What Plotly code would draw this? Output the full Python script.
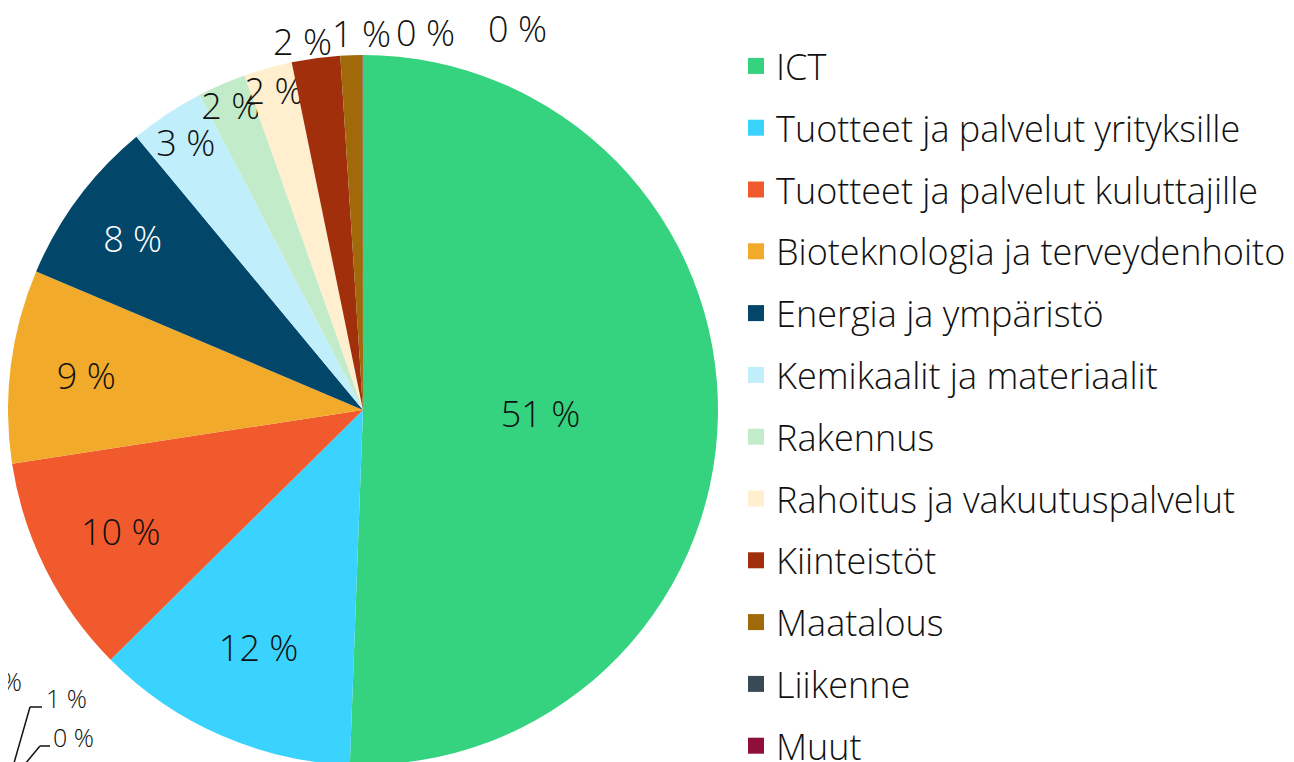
import plotly.graph_objects as go

categories = [
    "ICT",
    "Tuotteet ja palvelut yrityksille",
    "Tuotteet ja palvelut kuluttajille",
    "Bioteknologia ja terveydenhoito",
    "Energia ja ympäristö",
    "Kemikaalit ja materiaalit",
    "Rakennus",
    "Rahoitus ja vakuutuspalvelut",
    "Kiinteistöt",
    "Maatalous",
    "Liikenne",
    "Muut",
]
shares = [50.6, 12.0, 10.0, 8.8, 7.6, 3.4, 2.2, 2.2, 2.2, 1.0, 0.01, 0.01]
colors = [
    "#35D27F", "#3AD3FE", "#F15A2C", "#F2AA2A", "#02476A", "#C0EEFB",
    "#C2ECC9", "#FFEFCE", "#A12F0C", "#A0690A", "#3A4A55", "#8E0F3A",
]
# labels of a second, mostly off-canvas pie (lower-left corner)
corner_labels = ["0 %", "1 %", "0 %"]

text_colors = ["#111111"] * 4 + ["#FFFFFF"] + ["#111111"] * 7
inside = [True] * 8 + [False] * 4

FONT = "Open Sans"
FS = 36
W, H = 1294, 1000     # figure is taller than the window; bottom is off-screen
OFF = 8               # default page margin around the figure


def px(x, y):
    """screen pixel -> paper fraction"""
    return (x - OFF) / W, 1 - (y - OFF) / H


# pie centre (363, 410) on screen, radius 355
cx, cy, r = 363 - OFF, 410 - OFF, 355
dom_x = [(cx - r) / W, (cx + r) / W]
dom_y = [1 - (cy + r) / H, 1 - (cy - r) / H]

fig = go.Figure()
fig.add_trace(go.Pie(
    labels=categories,
    values=shares,
    marker=dict(colors=colors, line=dict(width=0)),
    sort=False,
    direction="clockwise",
    rotation=0,
    texttemplate="%{value:.0f} %",
    textposition=["inside" if f else "none" for f in inside],
    insidetextorientation="horizontal",
    insidetextfont=dict(color=text_colors, family=FONT, size=FS, weight=300),
    showlegend=False,
    hoverinfo="label+percent",
    domain=dict(x=dom_x, y=dom_y),
))

# legend entries (one group per category so that the rows can be spaced)
for i, (name, c) in enumerate(zip(categories, colors)):
    fig.add_trace(go.Scatter(
        x=[None], y=[None], mode="markers", name=name,
        marker=dict(symbol="square", size=16, color=c),
        legendgroup=f"g{i}", showlegend=True, hoverinfo="skip",
    ))

# labels of the small slices, set above the pie top
top_label_pos = [(302, 41), (361, 33), (425, 32), (517, 28)]
small = [v for v, f in zip(shares, inside) if not f]
for v, (x, y) in zip(small, top_label_pos):
    ax, ay = px(x, y)
    fig.add_annotation(x=ax, y=ay, xref="paper", yref="paper",
                       xanchor="center", yanchor="middle",
                       text=f"{round(v)} %", showarrow=False,
                       font=dict(family=FONT, size=FS, color="#111111", weight=300))

# lower-left corner labels with leader lines
corner_pos = [(24, 681, "right"), (44, 698, "left"), (51, 737, "left")]
for t, (x, y, anc) in zip(corner_labels, corner_pos):
    ax, ay = px(x, y)
    fig.add_annotation(x=ax, y=ay, xref="paper", yref="paper", text=t,
                       showarrow=False, xanchor=anc, yanchor="middle",
                       font=dict(family=FONT, size=25, color="#111111", weight=300))

for pts in [[(5, 697), (5, 770)], [(42, 707), (30, 707), (12, 770)],
            [(50, 746), (40, 746), (20, 770)]]:
    for (x0, y0), (x1, y1) in zip(pts[:-1], pts[1:]):
        a0, b0 = px(x0, y0)
        a1, b1 = px(x1, y1)
        fig.add_shape(type="line", xref="paper", yref="paper",
                      x0=a0, y0=b0, x1=a1, y1=b1,
                      line=dict(color="#111111", width=1.5))

# legend: first row centred at screen y = 67
_, ly = px(0, 67 - 31)
fig.update_layout(
    width=W, height=H,
    margin=dict(l=0, r=0, t=0, b=0, autoexpand=False),
    paper_bgcolor="white", plot_bgcolor="white",
    font=dict(family=FONT, size=FS, color="#111111", weight=300),
    uniformtext=dict(minsize=FS, mode="show"),
    xaxis=dict(visible=False, domain=[0.99, 1]),
    yaxis=dict(visible=False, domain=[0.0, 0.01]),
    legend=dict(
        x=(736 - OFF) / W, xanchor="left", y=ly, yanchor="top",
        tracegroupgap=12, bgcolor="rgba(0,0,0,0)",
        font=dict(family=FONT, size=FS, color="#111111", weight=300),
        itemclick=False, itemdoubleclick=False,
    ),
)

fig.write_html("out.html")
